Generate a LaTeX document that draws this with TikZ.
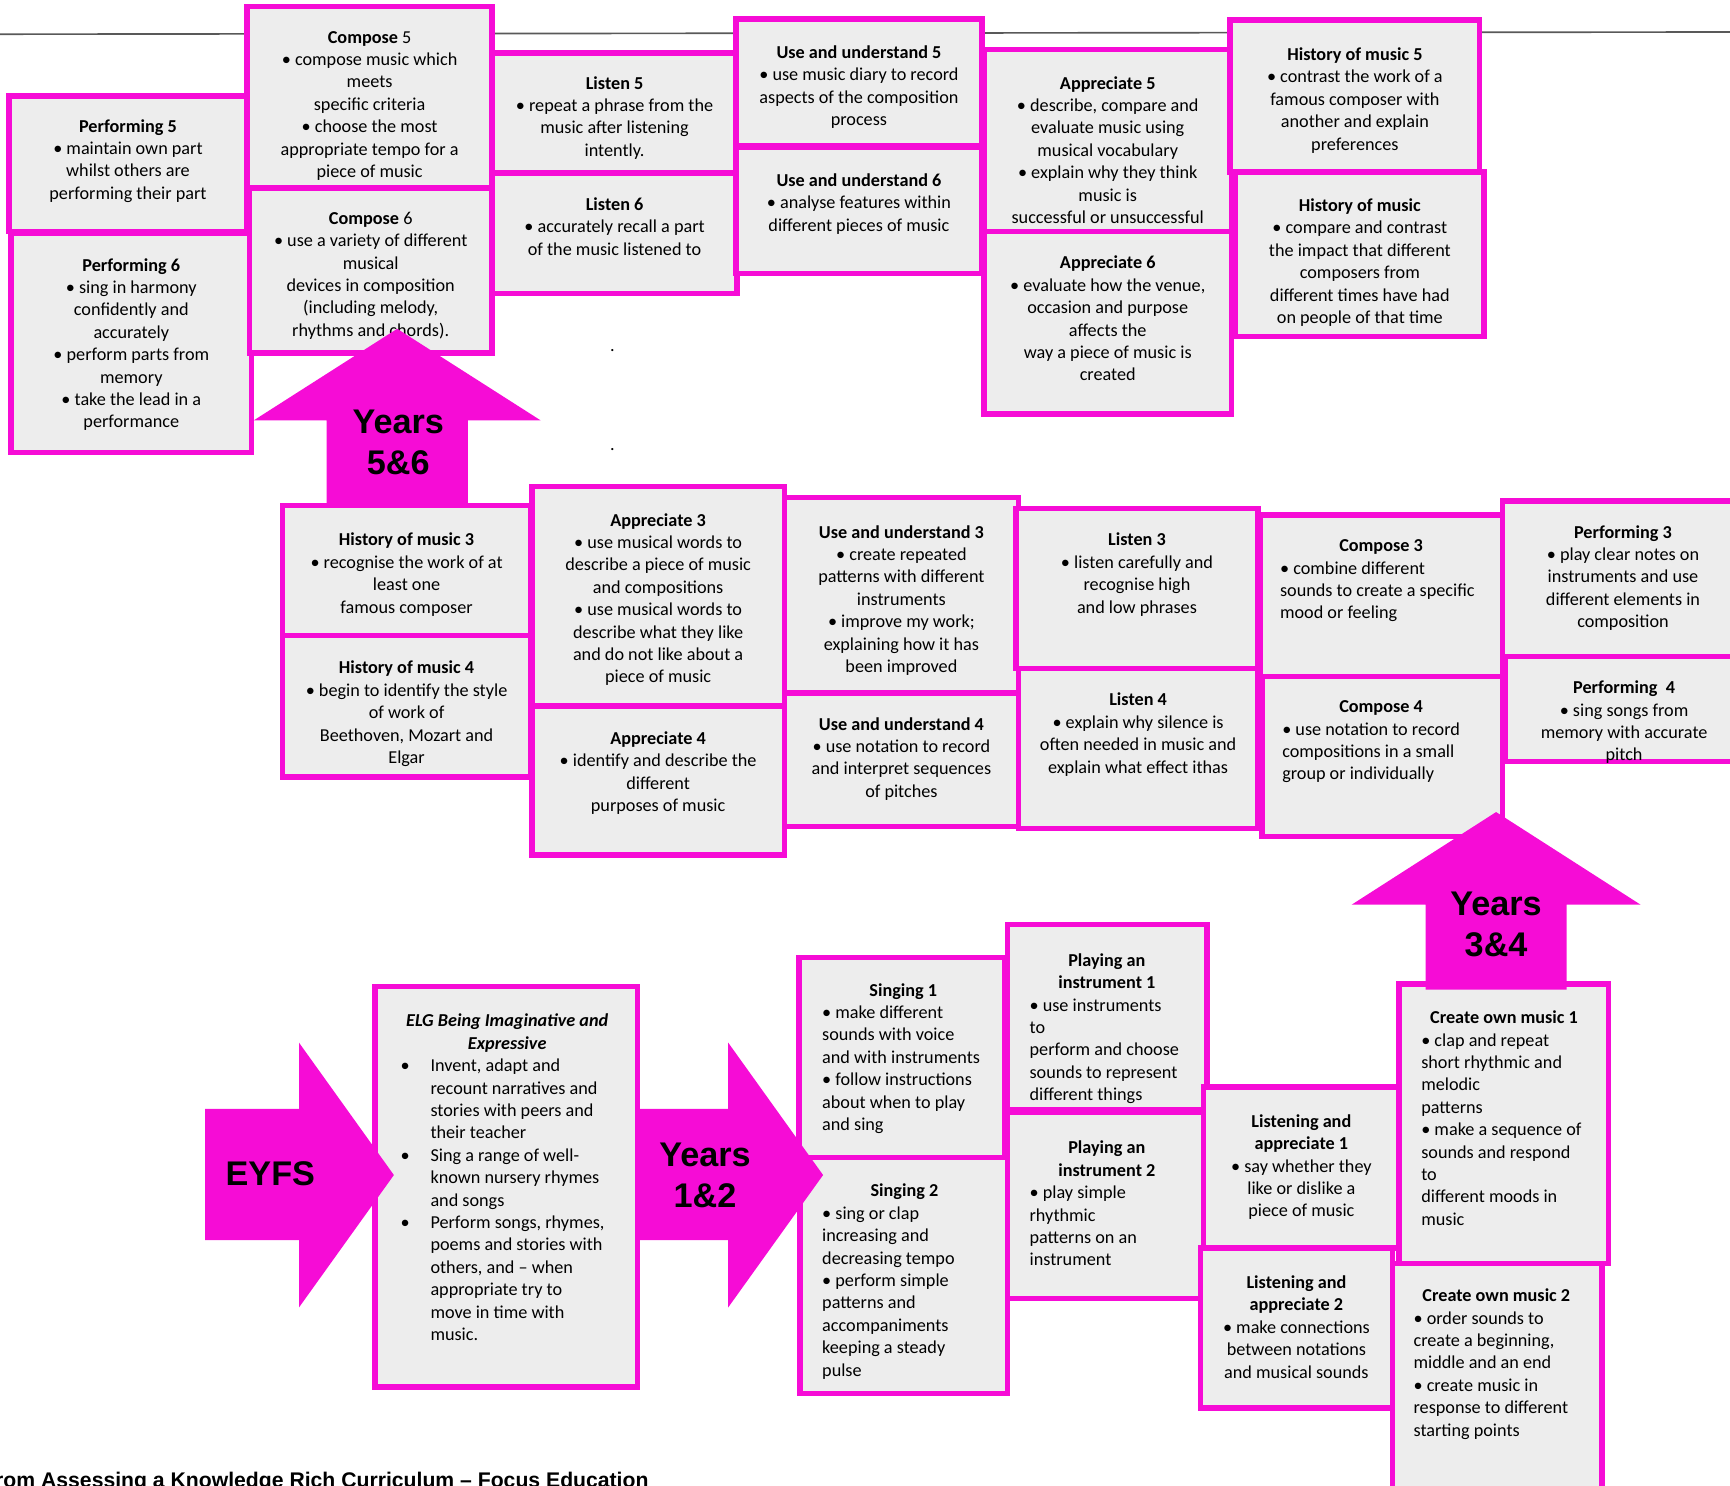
\documentclass[tikz,border=0pt]{standalone}
\usepackage{fontspec}
\setmainfont{Carlito}
\newfontfamily\yearsfont{Liberation Sans}
\usepackage{tikz}
\definecolor{mappink}{RGB}{246,12,214}
\definecolor{mapgray}{RGB}{237,237,237}
\newcommand\mapsize{\fontsize{16.5}{20.3}\selectfont}

\begin{document}
\begin{tikzpicture}[x=1pt,y=-1pt,
    cell/.style={draw=mappink,line width=5pt,fill=mapgray,anchor=north west,inner sep=0pt,outer sep=0pt},
    txt/.style={font=\mapsize,align=center,anchor=north,inner sep=0pt},
    ltxt/.style={font=\mapsize,align=left,anchor=north west,inner sep=0pt},
    years/.style={font=\yearsfont\bfseries\fontsize{31}{37}\selectfont,align=center,inner sep=0pt}]
    \useasboundingbox (0,0) rectangle (1568,1346);

    \draw [gray!70!black,line width=1.5pt] (0,31)--(1568,29);

    % years 5 and 6
    \node [cell,minimum width=216pt,minimum height=123pt] (perf5) at (8,87) {};
    \node [cell,minimum width=218pt,minimum height=199pt] (perf6) at (10,211) {};
    \node [cell,minimum width=222pt,minimum height=164pt] (comp5) at (224,6) {};
    \node [cell,minimum width=220pt,minimum height=149pt] (comp6) at (226,171) {};
    \node [cell,minimum width=222pt,minimum height=109pt] (lis5) at (446,48) {};
    \node [cell,minimum width=222pt,minimum height=109pt] (lis6) at (446,157) {};
    \node [cell,minimum width=223pt,minimum height=115pt] (uu5) at (667,17) {};
    \node [cell,minimum width=223pt,minimum height=115pt] (uu6) at (667,133) {};
    \node [cell,minimum width=224pt,minimum height=165pt] (app5) at (892,45) {};
    \node [cell,minimum width=224pt,minimum height=165pt] (app6) at (892,210) {};
    \node [cell,minimum width=226pt,minimum height=138pt] (hist5) at (1115,18) {};
    \node [cell,minimum width=225pt,minimum height=149pt] (hist6) at (1120,156) {};

    \node [txt] (perf5t) at ([yshift=-21pt]perf5.north) {\textbf{Performing 5}\\• maintain own part\\whilst others are\\performing their part};
    \node [txt] (perf6t) at ([yshift=-23pt]perf6.north) {\textbf{Performing 6}\\• sing in harmony\\confidently and\\accurately\\• perform parts from\\memory\\• take the lead in a\\performance};
    \node [txt] (comp5t) at ([yshift=-22pt]comp5.north) {\textbf{Compose} 5\\• compose music which\\meets\\specific criteria\\• choose the most\\appropriate tempo for a\\piece of music};
    \node [txt] (comp6t) at ([yshift=-21pt]comp6.north) {\textbf{Compose} 6\\• use a variety of different\\musical\\devices in composition\\(including melody,\\rhythms and chords).};
    \node [txt] (lis5t) at ([yshift=-21pt]lis5.north) {\textbf{Listen 5}\\• repeat a phrase from the\\music after listening\\intently.};
    \node [txt] (lis6t) at ([yshift=-22pt]lis6.north) {\textbf{Listen 6}\\• accurately recall a part\\of the music listened to};
    \node [txt] (uu5t) at ([yshift=-24pt]uu5.north) {\textbf{Use and understand 5}\\• use music diary to record\\aspects of the composition\\process};
    \node [txt] (uu6t) at ([yshift=-24pt]uu6.north) {\textbf{Use and understand 6}\\• analyse features within\\different pieces of music};
    \node [txt] (app5t) at ([yshift=-24pt]app5.north) {\textbf{Appreciate 5}\\• describe, compare and\\evaluate music using\\musical vocabulary\\• explain why they think\\music is\\successful or unsuccessful};
    \node [txt] (app6t) at ([yshift=-22pt]app6.north) {\textbf{Appreciate 6}\\• evaluate how the venue,\\occasion and purpose\\affects the\\way a piece of music is\\created};
    \node [txt] (hist5t) at ([yshift=-25pt]hist5.north) {\textbf{History of music 5}\\• contrast the work of a\\famous composer with\\another and explain\\preferences};
    \node [txt] (hist6t) at ([yshift=-24pt]hist6.north) {\textbf{History of music}\\• compare and contrast\\the impact that different\\composers from\\different times have had\\on people of that time};

    \node [font=\mapsize] (dotA) at (555,318) {.};
    \node [font=\mapsize] (dotB) at (555,407) {.};

    % years 3 and 4
    \node [cell,minimum width=225pt,minimum height=118pt] (hist3) at (256,458) {};
    \node [cell,minimum width=225pt,minimum height=128pt] (hist4) at (256,576) {};
    \node [cell,minimum width=229pt,minimum height=199pt] (app3) at (482,441) {};
    \node [cell,minimum width=229pt,minimum height=135pt] (app4) at (482,640) {};
    \node [cell,minimum width=212pt,minimum height=177pt] (uu3) at (711,451) {};
    \node [cell,minimum width=212pt,minimum height=121pt] (uu4) at (711,628) {};
    \node [cell,minimum width=219pt,minimum height=145pt] (lis3) at (921,461) {};
    \node [cell,minimum width=217pt,minimum height=145pt] (lis4) at (923,606) {};
    \node [cell,minimum width=220pt,minimum height=146pt] (comp3) at (1142,467) {};
    \node [cell,minimum width=218pt,minimum height=145pt] (comp4) at (1144,613) {};
    \node [cell,minimum width=218pt,minimum height=141pt] (perf3) at (1362,454) {};
    \node [cell,minimum width=216pt,minimum height=95pt] (perf4) at (1364,595) {};

    \node [txt] (hist3t) at ([yshift=-25pt]hist3.north) {\textbf{History of music 3}\\• recognise the work of at\\least one\\famous composer};
    \node [txt] (hist4t) at ([yshift=-23pt]hist4.north) {\textbf{History of music 4}\\• begin to identify the style\\of work of\\Beethoven, Mozart and\\Elgar};
    \node [txt] (app3t) at ([yshift=-24pt]app3.north) {\textbf{Appreciate 3}\\• use musical words to\\describe a piece of music\\and compositions\\• use musical words to\\describe what they like\\and do not like about a\\piece of music};
    \node [txt] (app4t) at ([yshift=-23pt]app4.north) {\textbf{Appreciate 4}\\• identify and describe the\\different\\purposes of music};
    \node [txt] (uu3t) at ([yshift=-25pt]uu3.north) {\textbf{Use and understand 3}\\• create repeated\\patterns with different\\instruments\\• improve my work;\\explaining how it has\\been improved};
    \node [txt] (uu4t) at ([yshift=-22pt]uu4.north) {\textbf{Use and understand 4}\\• use notation to record\\and interpret sequences\\of pitches};
    \node [txt] (lis3t) at ([yshift=-22pt]lis3.north) {\textbf{Listen 3}\\• listen carefully and\\recognise high\\and low phrases};
    \node [txt] (lis4t) at ([yshift=-22pt]lis4.north) {\textbf{Listen 4}\\• explain why silence is\\often needed in music and\\explain what effect ithas};
    \node [ltxt] (comp3t) at ([xshift=18pt,yshift=-22pt]comp3.north west) {\makebox[183pt][c]{\textbf{Compose 3}}\\• combine different\\sounds to create a specific\\mood or feeling};
    \node [ltxt] (comp4t) at ([xshift=18pt,yshift=-22pt]comp4.north west) {\makebox[179pt][c]{\textbf{Compose 4}}\\• use notation to record\\compositions in a small\\group or individually};
    \node [txt] (perf3t) at ([yshift=-22pt]perf3.north) {\textbf{Performing 3}\\• play clear notes on\\instruments and use\\different elements in\\composition};
    \node [txt] (perf4t) at ([yshift=-22pt]perf4.north) {\textbf{Performing~~4}\\• sing songs from\\memory with accurate\\pitch};

    % years 1 and 2
    \node [cell,minimum width=238pt,minimum height=363pt] (elg) at (340,894) {};
    \node [cell,minimum width=187pt,minimum height=181pt] (sing1) at (724,868) {};
    \node [cell,minimum width=188pt,minimum height=214pt] (sing2) at (725,1049) {};
    \node [cell,minimum width=181pt,minimum height=168pt] (play1) at (913,838) {};
    \node [cell,minimum width=178pt,minimum height=169pt] (play2) at (913,1008) {};
    \node [cell,minimum width=177pt,minimum height=146pt] (lna1) at (1091,985) {};
    \node [cell,minimum width=174pt,minimum height=145pt] (lna2) at (1088,1131) {};
    \node [cell,minimum width=190pt,minimum height=253pt] (com1) at (1268,892) {};
    \node [cell,minimum width=190pt,minimum height=207pt] (com2) at (1262,1145) {};

    \node [ltxt] (elgt) at ([xshift=20pt,yshift=-25pt]elg.north west) {\makebox[199pt][c]{\bfseries\itshape ELG Being Imaginative and}\\\makebox[199pt][c]{\bfseries\itshape Expressive}\\
        \makebox[30pt][l]{\hspace{3pt}•}Invent, adapt and\\\hspace*{30pt}recount narratives and\\\hspace*{30pt}stories with peers and\\\hspace*{30pt}their teacher\\
        \makebox[30pt][l]{\hspace{3pt}•}Sing a range of well-\\\hspace*{30pt}known nursery rhymes\\\hspace*{30pt}and songs\\
        \makebox[30pt][l]{\hspace{3pt}•}Perform songs, rhymes,\\\hspace*{30pt}poems and stories with\\\hspace*{30pt}others, and – when\\\hspace*{30pt}appropriate try to\\\hspace*{30pt}move in time with\\\hspace*{30pt}music.};
    \node [ltxt] (sing1t) at ([xshift=21pt,yshift=-23pt]sing1.north west) {\makebox[147pt][c]{\textbf{Singing 1}}\\• make different\\sounds with voice\\and with instruments\\• follow instructions\\about when to play\\and sing};
    \node [ltxt] (sing2t) at ([xshift=20pt,yshift=-24pt]sing2.north west) {\makebox[149pt][c]{\textbf{Singing 2}}\\• sing or clap\\increasing and\\decreasing tempo\\• perform simple\\patterns and\\accompaniments\\keeping a steady\\pulse};
    \node [ltxt] (play1t) at ([xshift=20pt,yshift=-26pt]play1.north west) {\makebox[140pt][c]{\textbf{Playing an}}\\\makebox[140pt][c]{\textbf{instrument 1}}\\• use instruments\\to\\perform and choose\\sounds to represent\\different things};
    \node [ltxt] (play2t) at ([xshift=20pt,yshift=-26pt]play2.north west) {\makebox[140pt][c]{\textbf{Playing an}}\\\makebox[140pt][c]{\textbf{instrument 2}}\\• play simple\\rhythmic\\patterns on an\\instrument};
    \node [txt] (lna1t) at ([yshift=-25pt]lna1.north) {\textbf{Listening and}\\\textbf{appreciate 1}\\• say whether they\\like or dislike a\\piece of music};
    \node [txt] (lna2t) at ([yshift=-25pt]lna2.north) {\textbf{Listening and}\\\textbf{appreciate 2}\\• make connections\\between notations\\and musical sounds};
    \node [ltxt] (com1t) at ([xshift=20pt,yshift=-24pt]com1.north west) {\makebox[150pt][c]{\textbf{Create own music 1}}\\• clap and repeat\\short rhythmic and\\melodic\\patterns\\• make a sequence of\\sounds and respond\\to\\different moods in\\music};
    \node [ltxt] (com2t) at ([xshift=19pt,yshift=-23pt]com2.north west) {\makebox[150pt][c]{\textbf{Create own music 2}}\\• order sounds to\\create a beginning,\\middle and an end\\• create music in\\response to different\\starting points};

    % arrows
    \fill [mappink] (296,458)--(296,381)--(230,381)--(360,298)--(490,381)--(424,381)--(424,458)--cycle;
    \node [years] (y56) at (361,401) {Years\\5\&6};
    \fill [mappink] (1292,897)--(1292,820)--(1225,820)--(1356,736)--(1487,820)--(1420,820)--(1420,897)--cycle;
    \node [years] (y34) at (1356,838) {Years\\3\&4};
    \fill [mappink] (186,1005)--(271,1005)--(271,945)--(357,1065)--(271,1185)--(271,1124)--(186,1124)--cycle;
    \node [years] (eyfs) at (245,1064) {EYFS};
    \fill [mappink] (578,1005)--(660,1005)--(660,945)--(746,1065)--(660,1185)--(660,1124)--(578,1124)--cycle;
    \node [years] (y12) at (639,1065) {Years\\1\&2};

    \node [font=\yearsfont\bfseries\fontsize{19.2}{22}\selectfont,anchor=base east,inner sep=0pt] (source) at (588,1348) {from Assessing a Knowledge Rich Curriculum – Focus Education};
\end{tikzpicture}
\end{document}
